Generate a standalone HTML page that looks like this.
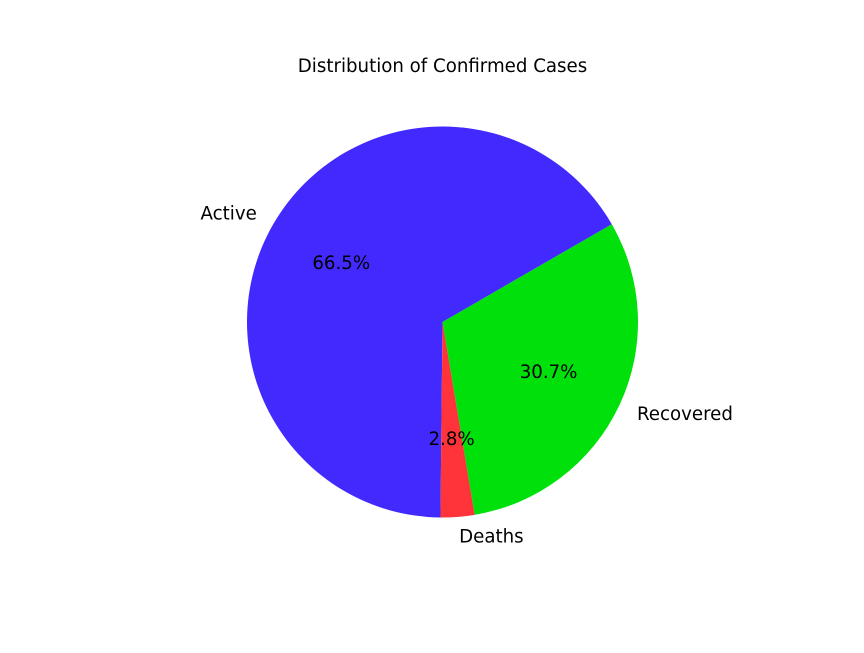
<!DOCTYPE html>
<html><head><meta charset="utf-8"><style>
body{margin:0;background:#fff}
svg text{font-family:"DejaVu Sans","Liberation Sans",sans-serif;font-size:18.2px;fill:#000}
</style></head><body>
<svg id="chart" width="864" height="648">
<rect width="864" height="648" fill="#fff"/>
<text x="442.5" y="72" text-anchor="middle">Distribution of Confirmed Cases</text>
<g id="slices"></g>
<g id="labels"></g>
</svg>
<script>
const categories = ["Active", "Deaths", "Recovered"];
const values = [66.5, 2.8, 30.7];
const colors = ["#4229fd", "#ff333a", "#00e00a"];
const startAngle = 30;

const cx = 442.5, cy = 322, r = 195.5;
const g = document.getElementById('slices');
const gl = document.getElementById('labels');
const ns = 'http://www.w3.org/2000/svg';
const total = values.reduce((a, b) => a + b, 0);
function pt(deg, rad) { const a = deg * Math.PI / 180; return [cx + rad * Math.cos(a), cy - rad * Math.sin(a)]; }
let ang = startAngle;
values.forEach((v, i) => {
  const sweep = v / total * 360;
  const a0 = ang, a1 = ang + sweep;
  const p0 = pt(a0, r), p1 = pt(a1, r);
  const path = document.createElementNS(ns, 'path');
  path.setAttribute('d', `M${cx},${cy} L${p0[0]},${p0[1]} A${r},${r} 0 ${sweep > 180 ? 1 : 0} 0 ${p1[0]},${p1[1]} Z`);
  path.setAttribute('fill', colors[i]);
  
  
  g.appendChild(path);
  const mid = (a0 + a1) / 2;
  const lp = pt(mid, r * 1.1);
  const lt = document.createElementNS(ns, 'text');
  lt.setAttribute('x', lp[0]);
  lt.setAttribute('y', lp[1] + 6);
  lt.setAttribute('text-anchor', Math.cos(mid * Math.PI / 180) < 0 ? 'end' : 'start');
  lt.textContent = categories[i];
  
  
  gl.appendChild(lt);
  const pp = pt(mid, r * 0.6);
  const pt2 = document.createElementNS(ns, 'text');
  pt2.setAttribute('x', pp[0]);
  pt2.setAttribute('y', pp[1] + 6);
  pt2.setAttribute('text-anchor', 'middle');
  pt2.textContent = (v / total * 100).toFixed(1) + '%';
  
  
  gl.appendChild(pt2);
  ang = a1;
});
</script>
</body></html>
